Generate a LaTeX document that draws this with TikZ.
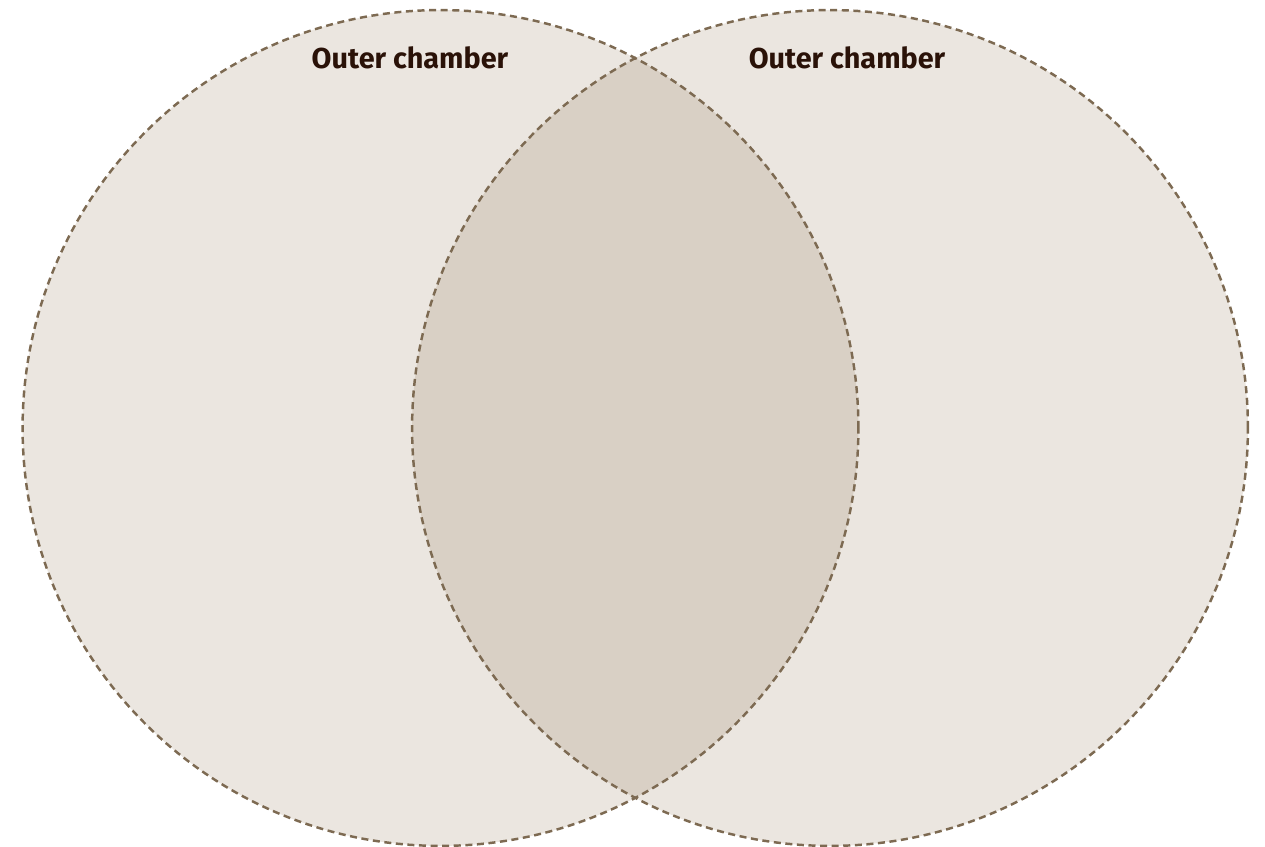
\documentclass[tikz,border=0pt]{standalone}
\usepackage{fontspec}
\setsansfont{Fira Sans}
\definecolor{chamberfill}{HTML}{EBE6E0}
\definecolor{lensfill}{HTML}{D9D0C5}
\definecolor{rimcolor}{HTML}{7D6A52}
\definecolor{labelcolor}{HTML}{2A1208}
\tikzset{
  rim/.style={draw=rimcolor, line width=1.4pt, dash pattern=on 4pt off 2.6pt},
  chamberlabel/.style={font=\sffamily\bfseries\fontsize{16.4}{19}\selectfont, text=labelcolor, inner sep=0pt}
}
\begin{document}
\begin{tikzpicture}[x=0.02cm, y=0.02cm]
    % Khung hinh (1265 x 847)
    \useasboundingbox (0, 0) rectangle (1265, 847);
    % Tam hai buong
    \coordinate (L) at (440.5, 419);
    \coordinate (R) at (830, 419);

    % 1. Nen hai buong
    \fill[chamberfill] (L) circle[radius=8.36cm];
    \fill[chamberfill] (R) circle[radius=8.36cm];

    % 2. Phan giao nhau
    \begin{scope}
        \clip (L) circle[radius=8.36cm];
        \fill[lensfill] (R) circle[radius=8.36cm];
    \end{scope}

    % 3. Vien net dut
    \draw[rim] (L) circle[radius=8.36cm];
    \draw[rim] (R) circle[radius=8.36cm];

    % 4. Nhan
    \node[chamberlabel] (leftlabel) at (410, 789) {Outer chamber};
    \node[chamberlabel] (rightlabel) at (847, 789) {Outer chamber};
\end{tikzpicture}
\end{document}
